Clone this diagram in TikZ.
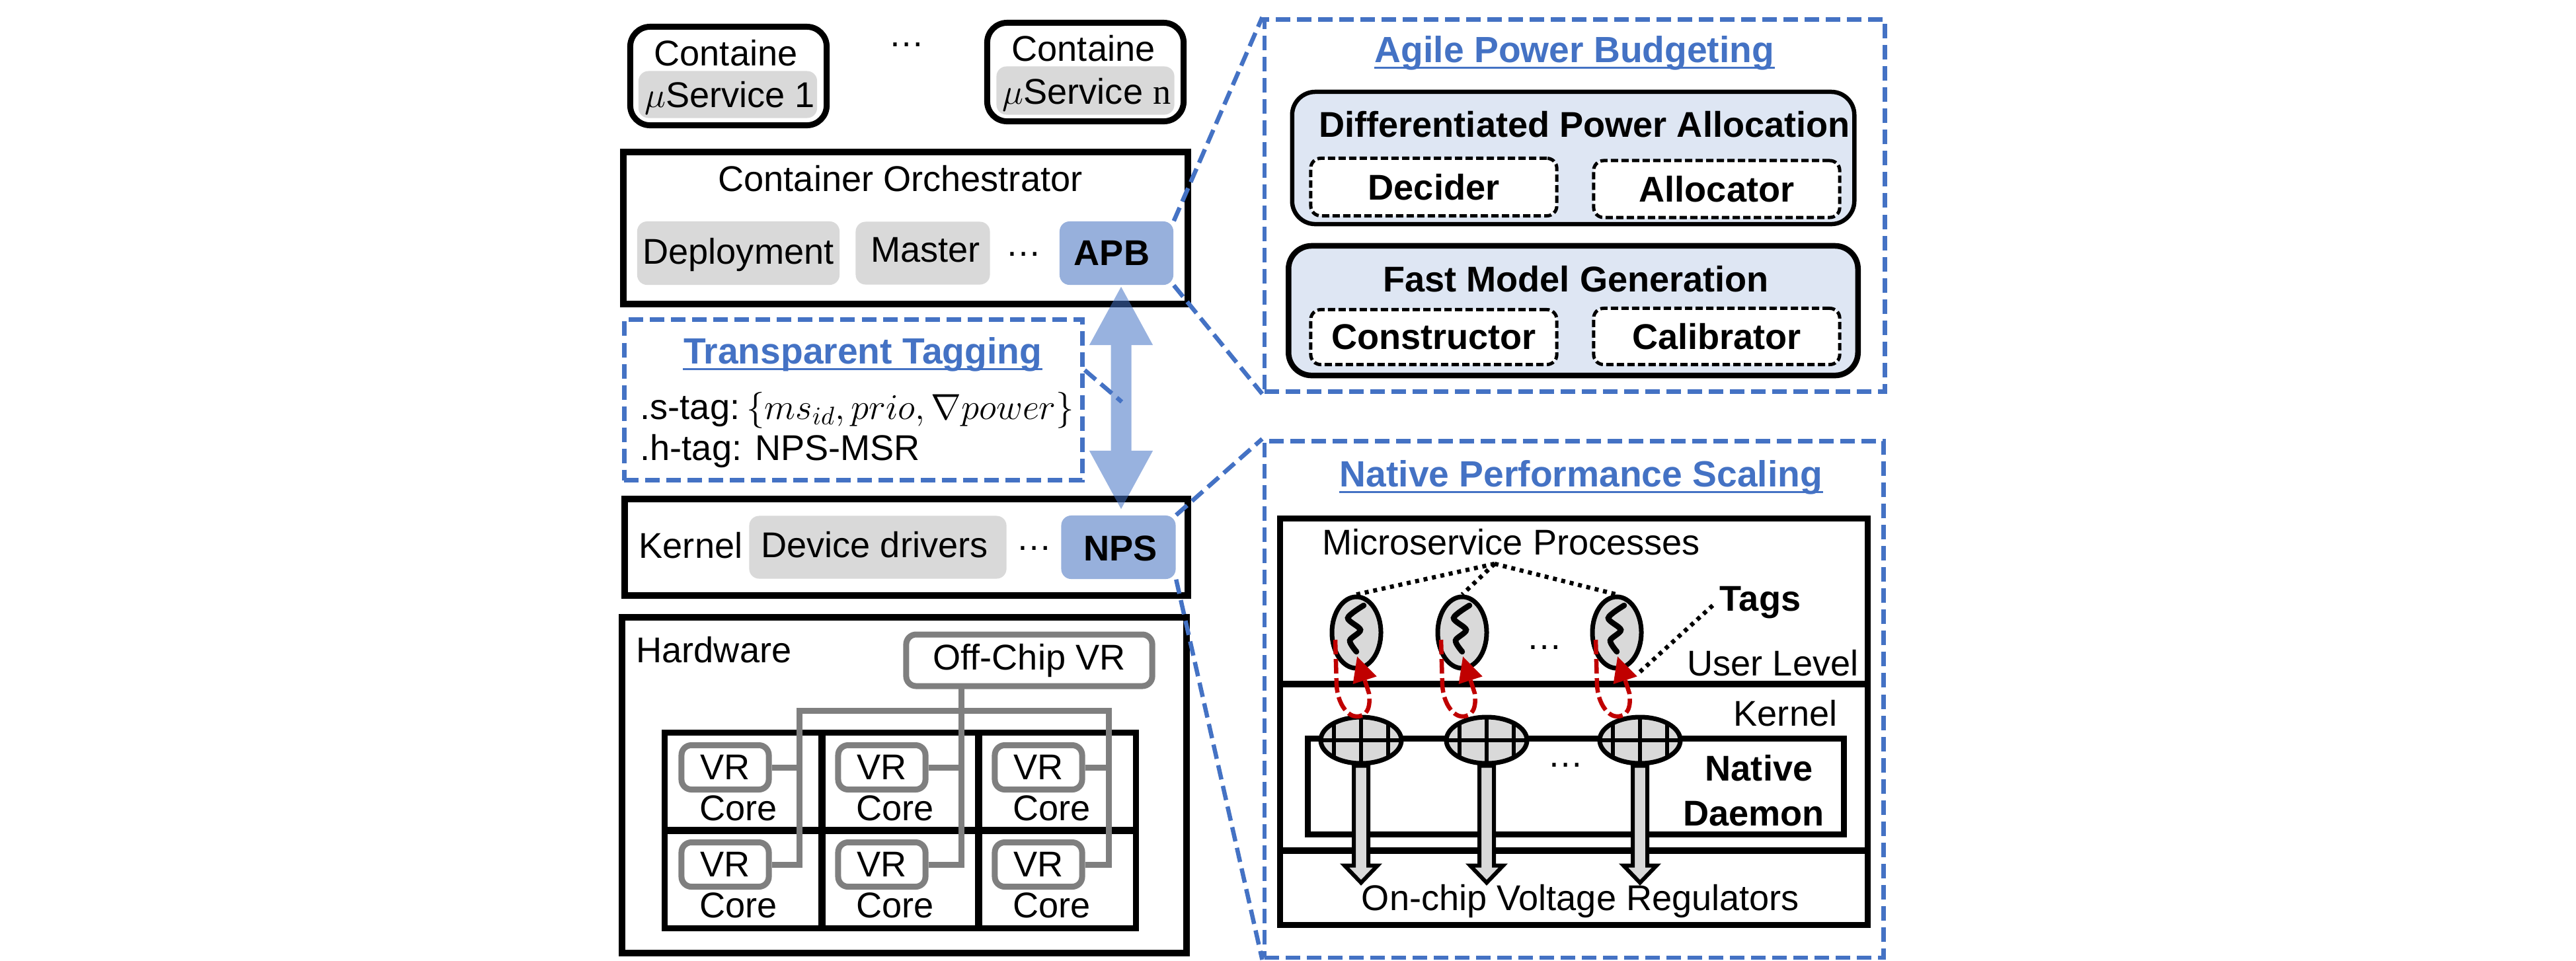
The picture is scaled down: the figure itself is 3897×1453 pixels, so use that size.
\documentclass[tikz,border=0pt]{standalone}
\usepackage{fix-cm}
\usepackage{amsmath}
\usepackage{fontspec}
\setmainfont{Liberation Sans}
\newfontfamily\serifn{Liberation Serif}
\usepackage{tikz}
\usetikzlibrary{arrows.meta,shapes.geometric,calc}
\definecolor{tagblue}{HTML}{4472C4}
\definecolor{softblue}{HTML}{97B0DC}
\definecolor{paleblue}{HTML}{DEE6F3}
\definecolor{cellgray}{HTML}{D9D9D9}
\definecolor{wiregray}{HTML}{7F7F7F}
\definecolor{tagred}{HTML}{C00000}
\begin{document}
\begin{tikzpicture}[x=.01cm, y=-.01cm,
  lbl/.style={font=\fontsize{15.4}{18}\selectfont, inner sep=0pt},
  blbl/.style={font=\fontsize{15.4}{18}\selectfont\bfseries, inner sep=0pt},
  ttl/.style={font=\fontsize{15.7}{18}\selectfont\bfseries, text=tagblue, inner sep=0pt},
  ttlline/.style={draw=tagblue, line width=.03cm},
  layer/.style={draw, line width=.1cm, inner sep=0pt},
  ctr/.style={draw, line width=.09cm, rounded corners=.3cm, inner sep=0pt},
  soft/.style={fill=cellgray, rounded corners=.15cm, inner sep=0pt},
  mod/.style={fill=softblue, rounded corners=.15cm, inner sep=0pt},
  panel/.style={draw=tagblue, line width=.065cm, dash pattern=on .22cm off .1cm, inner sep=0pt},
  zoomline/.style={draw=tagblue, line width=.065cm, dash pattern=on .22cm off .1cm},
  group/.style={draw, fill=paleblue, rounded corners=.35cm, inner sep=0pt},
  part/.style={draw, fill=white, line width=.05cm, dash pattern=on .11cm off .05cm, rounded corners=.15cm, inner sep=0pt,
               minimum width=3.72cm, font=\fontsize{15.4}{18}\selectfont\bfseries},
  vrbox/.style={draw=wiregray, line width=.09cm, rounded corners=.15cm, minimum width=1.32cm, minimum height=.67cm,
                inner sep=0pt, font=\fontsize{15.4}{18}\selectfont},
  wire/.style={draw=wiregray, line width=.09cm},
  proc/.style={ellipse, draw, fill=cellgray, line width=.07cm, minimum width=.74cm, minimum height=1.08cm, inner sep=0pt},
  gridell/.style={ellipse, draw, fill=cellgray, line width=.07cm, minimum width=1.22cm, minimum height=.7cm, inner sep=0pt,
    path picture={
      \draw[line width=.06cm] (path picture bounding box.west) -- (path picture bounding box.east);
      \foreach \d in {-.41cm,0cm,.41cm}
        \draw[line width=.06cm] ([xshift=\d]path picture bounding box.north) -- ([xshift=\d]path picture bounding box.south);
    }},
  drop/.style={draw, fill=cellgray, line width=.06cm},
  tagloop/.style={draw=tagred, line width=.065cm, dash pattern=on .22cm off .07cm, -{Triangle[length=.38cm,width=.36cm]}},
  dots/.style={draw, line width=.065cm, dash pattern=on .06cm off .07cm},
]
\useasboundingbox (0,0) rectangle (3897,1453);

% containers on top
\node[ctr, minimum width=2.97cm, minimum height=1.49cm] (C1) at (1102,115) {};
\node[soft, minimum width=2.7cm, minimum height=.71cm] (S1) at (1101,143) {};
\node[lbl] (C1t) at (1098,80) {Containe};
\node[lbl] (S1t) at (1104,148) {$\mu$Service 1};
\node[ctr, minimum width=2.97cm, minimum height=1.49cm] (C2) at (1642,109) {};
\node[soft, minimum width=2.69cm, minimum height=.73cm] (S2) at (1642,137) {};
\node[lbl] (C2t) at (1639,73) {Containe};
\node[lbl] (S2t) at (1644,143) {$\mu$Service {\serifn n}};
\node[lbl] (Cdots) at (1372,68) {\ldots};

% orchestrator
\node[layer, minimum width=8.54cm, minimum height=2.3cm] (OR) at (1370,345) {};
\node[lbl] (ORt) at (1362,270) {Container Orchestrator};
\node[soft, minimum width=3.06cm, minimum height=.96cm] (DP) at (1117,383) {};
\node[lbl] (DPt) at (1117,385) {Deployment};
\node[soft, minimum width=2.03cm, minimum height=.95cm] (MS) at (1396,383) {};
\node[lbl] (MSt) at (1400,378) {Master};
\node[lbl] (ORd) at (1549,385) {\ldots};
\node[mod, minimum width=1.72cm, minimum height=.96cm] (APB) at (1689,383) {};
\node[blbl] (APBt) at (1682,383) {APB};

% kernel
\node[layer, minimum width=8.52cm, minimum height=1.45cm] (KN) at (1371,828) {};
\node[lbl] (KNt) at (1045,825) {Kernel};
\node[soft, minimum width=3.89cm, minimum height=.95cm] (DD) at (1328,828) {};
\node[lbl] (DDt) at (1323,824) {Device drivers};
\node[lbl] (KNd) at (1565,830) {\ldots};
\node[mod, minimum width=1.73cm, minimum height=.96cm] (NPS) at (1692,828) {};
\node[blbl] (NPSt) at (1695,830) {NPS};

% tagging box
\node[panel, minimum width=6.93cm, minimum height=2.43cm] (TT) at (1291,605) {};
\node[ttl] (TTt) at (1305,536) {Transparent Tagging};
\draw[ttlline] ([yshift=-.08cm]TTt.base west) -- ([yshift=-.08cm]TTt.base east);
\node[lbl, anchor=west] (TS) at (968,621) {.s-tag:\hspace{-.1cm} {\fontsize{15.6}{18}\selectfont$\{ms_{id},prio,\nabla power\}$}};
\node[lbl, anchor=west] (TH) at (968,682) {.h-tag: NPS-MSR};

% hardware
\node[layer, minimum width=8.54cm, minimum height=5.07cm] (HW) at (1368,1188) {};
\node[lbl] (HWt) at (1080,983) {Hardware};
\node[vrbox, minimum width=3.72cm, minimum height=.78cm] (OFF) at (1557,999) {\raisebox{-.03cm}{Off-Chip VR}};
\foreach \x/\c in {1097/a,1334/b,1571/c}
  \foreach \y/\r in {1161/1,1308/2}{
    \node[draw, line width=.09cm, minimum width=2.38cm, minimum height=1.48cm, inner sep=0pt]
      (cell\c\r) at ([shift={(28,22)}]\x,\y) {};
    \node[vrbox] (vr\c\r) at (\x,\y) {VR};
    \node[lbl] (core\c\r) at ([shift={(20,62)}]\x,\y) {Core};
  }
\coordinate (busl) at (1209,1075);
\coordinate (busr) at (1677,1075);
\coordinate (offb) at (1454,1038);
\draw[wire] (vra2.east) -| (busl) -- (busr) |- (vrc2.east);
\draw[wire] (vra1.east) -- (vra1.east -| busl);
\draw[wire] (vrc1.east) -- (vrc1.east -| busr);
\draw[wire] (offb) |- (vrb2.east);
\draw[wire] (vrb1.east) -- (vrb1.east -| offb);

% power budgeting panel
\node[panel, minimum width=9.38cm, minimum height=5.63cm] (AP) at (2382,311) {};
\node[ttl] (APt) at (2382,80) {Agile Power Budgeting};
\draw[ttlline] ([yshift=-.08cm]APt.base west) -- ([yshift=-.08cm]APt.base east);
\node[group, line width=.065cm, minimum width=8.5cm, minimum height=2cm] (G1) at (2380,239) {};
\node[blbl] (G1t) at (2397,188) {Differentiated Power Allocation};
\node[part, minimum height=.87cm] (DC) at (2169,283) {Decider};
\node[part, minimum height=.86cm] (AL) at (2597,286) {Allocator};
\node[group, line width=.085cm, minimum width=8.61cm, minimum height=1.96cm] (G2) at (2380,470) {};
\node[blbl] (G2t) at (2384,422) {Fast Model Generation};
\node[part, minimum height=.83cm] (CN) at (2169,510) {\raisebox{-.03cm}{Constructor}};
\node[part, minimum height=.85cm] (CB) at (2597,509) {Calibrator};

% scaling panel
\node[panel, minimum width=9.36cm, minimum height=7.81cm] (NP) at (2381,1058) {};
\node[ttl] (NPt) at (2392,722) {Native Performance Scaling};
\draw[ttlline] ([yshift=-.08cm]NPt.base west) -- ([yshift=-.08cm]NPt.base east);
\node[layer, line width=.09cm, minimum width=8.89cm, minimum height=2.5cm] (UL) at (2381,910) {};
\node[layer, line width=.09cm, minimum width=8.89cm, minimum height=2.52cm] (KL) at (2381,1161) {};
\node[layer, line width=.09cm, minimum width=8.89cm, minimum height=1.12cm] (VL) at (2381,1343) {};
\node[layer, line width=.09cm, minimum width=8.1cm, minimum height=1.44cm] (ND) at (2384,1190) {};
\node[lbl] (MPt) at (2286,820) {Microservice Processes};
\node[blbl] (TGt) at (2663,912) {Tags};
\node[lbl] (ULt) at (2682,1003) {User Level};
\node[lbl] (KLt) at (2701,1079) {Kernel};
\node[blbl] (NDa) at (2661,1162) {Native};
\node[blbl] (NDb) at (2653,1231) {Daemon};
\node[lbl] (VLt) at (2391,1363) {On-chip Voltage Regulators};
\node[lbl] (ULd) at (2337,980) {\ldots};
\node[lbl] (KLd) at (2369,1158) {\ldots};

\foreach \x/\i in {2059/1,2249/2,2481/3}{
  \node[gridell] (g\i) at (\x,1120) {};
  \draw[drop] (g\i.south) ++(-11,0) -- ++(0,151) -- ++(-14,0) -- ++(25,26) -- ++(25,-26) -- ++(-14,0) -- ++(0,-151) -- cycle;
}
\foreach \x/\i in {2052/1,2212/2,2446/3}{
  \node[proc] (p\i) at (\x,957) {};
  \begin{scope}[shift={(\x,957)}]
    \draw[line width=.085cm, line cap=round] plot[smooth] coordinates {(11,-41) (-13,-22) (6,-4) (-10,12) (0,29)};
    \draw[tagloop] (-32,11) -- (-30,80) .. controls (-28,110) and (-12,127) .. (0,127)
      .. controls (15,127) and (22,115) .. (19,92) -- (1,36);
  \end{scope}
}
\coordinate (hub) at (2261,853);
\foreach \i in {1,2,3} \draw[dots] (hub) -- (p\i.north);
\coordinate (tagstart) at (2591,916);
\coordinate (tagend) at (2476,1021);
\draw[dots] (tagstart) -- (tagend);

% zoom lines and the tag arrow
\draw[zoomline] (APB.north east) -- (AP.north west);
\draw[zoomline] (APB.south east) -- (AP.south west);
\draw[zoomline] (NPS.north east) -- (NP.north west);
\draw[zoomline] (NPS.south east) -- (NP.south west);
\coordinate (up) at (1696,432);
\coordinate (dn) at (1696,772);
\coordinate (tagin) at (1697,608);
\draw[zoomline] (TT.east |- 0,560) -- (tagin);
\begin{scope}[transparency group, opacity=.55]
  \draw[tagblue, line width=.31cm, {Triangle[length=.9cm,width=.89cm]}-{Triangle[length=.9cm,width=.89cm]}] (up) -- (dn);
\end{scope}
\end{tikzpicture}
\end{document}
